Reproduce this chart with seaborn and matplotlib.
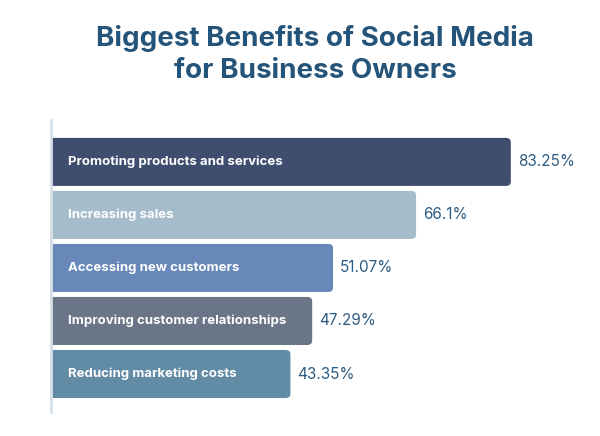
import matplotlib
matplotlib.use("Agg")
import matplotlib.pyplot as plt
import seaborn as sns
import pandas as pd
from matplotlib.patches import FancyBboxPatch

categories = ["Promoting products and services", "Increasing sales", "Accessing new customers",
              "Improving customer relationships", "Reducing marketing costs"]
values = [83.25, 66.1, 51.07, 47.29, 43.35]
value_labels = ["83.25%", "66.1%", "51.07%", "47.29%", "43.35%"]
colors = ["#3F4D6E", "#A5BCCB", "#6788B8", "#6A7587", "#628BA5"]

sns.set_theme(style="white")
plt.rcParams['font.family'] = ['Inter', 'DejaVu Sans']

df = pd.DataFrame({"category": categories, "value": values})

fig = plt.figure(figsize=(6, 4.36), dpi=100)
ax = fig.add_axes([0.085, 0.055, 0.915, 0.67])
sns.barplot(data=df, x="value", y="category", hue="category", palette=colors,
            legend=False, width=0.906, ax=ax, saturation=1)

# rounded right corners
for p in list(ax.patches):
    x0, y0 = p.get_x(), p.get_y()
    w, h = p.get_width(), p.get_height()
    fc = p.get_facecolor()
    p.set_visible(False)
    r = FancyBboxPatch((x0 - 2, y0), w + 2, h,
                       boxstyle="round,pad=0,rounding_size=0.9",
                       mutation_aspect=0.09,
                       fc=fc, ec="none", zorder=2)
    ax.add_patch(r)

ax.set_xlim(0, 99.4)
ax.set_ylim(4.717, -0.792)
ax.set_xlabel("")
ax.set_ylabel("")
ax.set_xticks([])
ax.set_yticks([])
for s in ["top", "right", "bottom"]:
    ax.spines[s].set_visible(False)
ax.spines["left"].set_color("#D6DFE7")
ax.spines["left"].set_linewidth(2)
ax.spines["left"].set_zorder(3)

for i, (c, v, lab) in enumerate(zip(categories, values, value_labels)):
    ax.text(3.0, i, c, color="white", fontsize=9.5, fontweight="bold",
            va="center", ha="left", zorder=4)
    ax.text(v + 1.3, i, lab, color="#2C5B82", fontsize=11, va="center", ha="left")

fig.text(0.525, 0.876, "Biggest Benefits of Social Media\nfor Business Owners",
         ha="center", va="center", fontsize=20, fontweight="bold", color="#245479",
         linespacing=1.3)

fig.savefig("out.png", dpi=100, facecolor="white")
